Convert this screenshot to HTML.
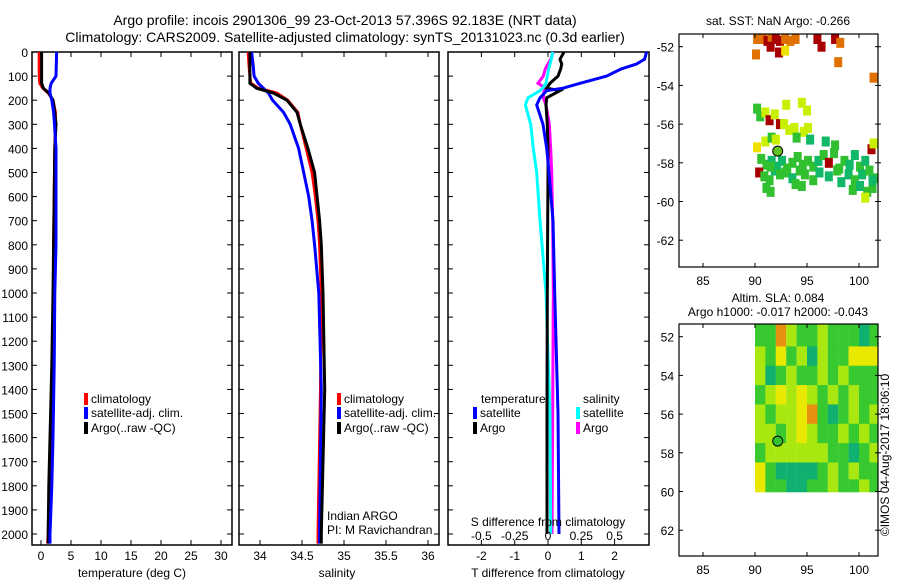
<!DOCTYPE html>
<html><head><meta charset="utf-8">
<style>
html,body{margin:0;padding:0;background:#fff;}
svg{display:block;font-family:"Liberation Sans",sans-serif;}
text{fill:#000;}
</style></head>
<body>
<svg id="c" width="900" height="580" viewBox="0 0 900 580">
<text x="345" y="25" font-size="14" text-anchor="middle">Argo profile: incois 2901306_99 23-Oct-2013 57.396S 92.183E (NRT data)</text>
<text x="345" y="42" font-size="14" text-anchor="middle">Climatology: CARS2009. Satellite-adjusted climatology: synTS_20131023.nc (0.3d earlier)</text>
<text x="778" y="25" font-size="12" text-anchor="middle">sat. SST: NaN Argo: -0.266</text>
<text x="778" y="302" font-size="12" text-anchor="middle">Altim. SLA: 0.084</text>
<text x="778" y="316" font-size="12" text-anchor="middle">Argo h1000: -0.017 h2000: -0.043</text>
<text transform="translate(889,455) rotate(-90)" font-size="12" text-anchor="middle">©IMOS 04-Aug-2017 18:06:10</text>
<g id="plots"></g>
</svg>
<script>
// ---- data ----
const tDepth = [0,100,130,150,170,200,250,300,400,600,800,1000,1300,1600,1800,2000,2040];
const tClim  = [-0.3,-0.3,-0.2,0.3,1.2,2.0,2.4,2.4,2.3,2.2,2.1,2.1,1.9,1.6,1.4,1.2,1.1];
const tArgo  = [0.1,0.1,0.1,0.4,1.3,2.0,2.3,2.5,2.3,2.2,2.1,2.0,1.8,1.5,1.3,1.2,1.2];
const tSat   = [2.6,2.5,1.7,1.5,1.5,1.8,2.1,2.25,2.5,2.5,2.5,2.3,2.2,2.0,1.8,1.5,1.5];
const sDepth = [0,60,100,130,150,170,200,250,300,400,500,600,700,800,1000,1400,2000,2040];
const sClim  = [33.86,33.87,33.88,33.89,33.98,34.2,34.33,34.45,34.48,34.55,34.62,34.66,34.69,34.71,34.73,34.72,34.69,34.69];
const sArgo  = [33.88,33.88,33.88,33.88,33.96,34.16,34.32,34.44,34.48,34.57,34.65,34.68,34.71,34.73,34.75,34.77,34.73,34.73];
const sSat   = [33.90,33.92,33.93,33.98,34.04,34.10,34.15,34.28,34.36,34.46,34.52,34.58,34.62,34.65,34.70,34.73,34.71,34.71];
const dDepth = [0,30,50,70,100,130,150,160,190,220,300,400,500,700,1000,1500,2000];
const dTSat  = [2.96,2.9,2.66,2.2,1.76,0.96,0.45,-0.04,-0.24,-0.34,-0.15,-0.04,0.03,0.15,0.2,0.3,0.33];
const dTArgo = [0.48,0.36,0.41,0.38,0.3,0.06,-0.04,0.36,-0.04,-0.06,-0.02,0,0,-0.01,-0.02,-0.03,-0.03];
const dSSat  = [0.035,0.025,0.015,0.005,-0.005,-0.015,-0.04,-0.06,-0.15,-0.17,-0.13,-0.11,-0.085,-0.06,-0.015,0.015,0.02];
const dSArgo = [0.04,0.02,0,-0.02,-0.035,-0.075,-0.02,-0.03,-0.035,-0.015,0.01,0.02,0.028,0.035,0.04,0.035,0.03];
const depthTicks = [0,100,200,300,400,500,600,700,800,900,1000,1100,1200,1300,1400,1500,1600,1700,1800,1900,2000];
const tTicks = [0,5,10,15,20,25,30];
const sTicks = [34,34.5,35,35.5,36];
const sTickLabels = ["34","34.5","35","35.5","36"];
const dTTicks = [-2,-1,0,1,2];
const dSTicks = [-0.5,-0.25,0,0.25,0.5];
const dSTickLabels = ["-0.5","-0.25","0","0.25","0.5"];
const lonTicks = [85,90,95,100];
const latTicks = [-52,-54,-56,-58,-60,-62];
// SST scatter cells: lon, lat, colour class
const sstLon = [90.2,90.8,91.2,91.6,92.0,92.4,92.9,93.4,93.9,90.1,91.5,92.3,92.9,96.0,96.4,97.7,98.2,98.0,101.4,
 93.0,94.5,95.0,90.2,90.5,91.0,91.4,91.9,92.4,92.8,93.3,93.8,94.7,95.1,90.2,91.0,91.6,92.0,94.0,95.3,96.8,97.7,
 90.6,91.1,91.6,92.1,92.6,93.1,93.6,94.1,94.6,95.1,95.6,96.1,96.6,97.1,97.6,98.1,98.6,99.1,99.6,100.1,100.6,101.2,
 90.4,90.9,91.4,91.9,92.4,92.9,93.6,94.3,94.8,95.6,96.2,97.1,97.9,99.0,99.6,100.3,101.0,101.4,
 91.1,91.5,93.9,94.5,98.3,99.4,100.1,100.8,101.3,101.4,91.5,100.6,101.3];
const sstLat = [-51.6,-51.6,-51.7,-51.6,-51.6,-51.7,-51.6,-51.7,-51.6,-52.4,-52.0,-52.3,-52.2,-51.6,-52.0,-51.6,-51.8,-52.8,-53.6,
 -55.0,-54.9,-55.3,-55.2,-55.6,-55.4,-55.8,-55.5,-56.0,-56.0,-56.3,-56.2,-56.4,-56.2,-57.2,-56.9,-56.7,-56.8,-56.7,-56.8,-56.9,-57.1,
 -57.8,-58.1,-57.9,-58.2,-57.9,-58.3,-58.0,-57.7,-58.1,-57.9,-58.2,-57.9,-57.6,-58.0,-57.5,-58.3,-57.9,-58.1,-57.6,-58.2,-57.9,-57.3,
 -58.5,-58.7,-58.9,-58.4,-58.6,-58.5,-58.8,-58.4,-58.6,-58.9,-58.5,-58.7,-58.4,-58.6,-58.9,-58.6,-58.4,-58.8,
 -59.3,-59.5,-59.1,-59.2,-59.0,-59.4,-59.2,-59.5,-59.3,-57.0,-58.2,-59.8,-58.9];
const sstCol = ["o","o","r","o","r","r","o","o","o","o","r","r","y","r","r","r","o","o","o",
 "l","l","l","g","g","l","r","l","r","l","l","l","l","l","y","l","g","l","g","m","m","g",
 "g","g","m","m","m","g","g","g","g","g","g","m","g","r","g","g","g","m","m","g","m","r",
 "r","g","g","m","g","g","m","g","g","g","m","m","g","m","g","m","g","g",
 "g","g","g","g","m","g","m","g","g","l","g","l","m"];
const sstPalette = {r:"#a80000",o:"#e07000",l:"#c8f000",g:"#30c030",m:"#10b868",y:"#f0e000"};
// SLA grid rows lat -52..-60, cols lon 90..101
const slaLats = [-52,-53,-54,-55,-56,-57,-58,-59,-59.75];
const slaLons = [90,91,92,93,94,95,96,97,98,99,100,101];
const slaGrid = [
 [1,1,4,2,1,1,2,1,1,1,0,1],
 [2,1,3,1,2,0,2,1,1,3,3,3],
 [2,0,1,2,1,1,2,1,2,1,1,1],
 [1,2,3,2,3,2,1,2,1,2,1,1],
 [2,1,2,2,3,4,1,0,1,2,1,2],
 [2,2,1,2,3,2,1,1,2,1,2,1],
 [1,2,2,2,2,2,2,1,1,0,1,2],
 [3,1,0,0,0,0,1,2,1,2,1,1],
 [3,1,1,0,0,1,1,2,1,1,2,1]];
const slaPalette = ["#10b070","#38c830","#a8e810","#e8e800","#e89010"];
const argoLon = 92.183, argoLat = -57.396;

// ---- drawing ----
const NS="http://www.w3.org/2000/svg";
const root=document.getElementById('plots');
function el(tag,attrs,parent){const e=document.createElementNS(NS,tag);for(const k in attrs)e.setAttribute(k,attrs[k]);(parent||root).appendChild(e);return e;}
function txt(x,y,s,size,anchor,name){const t=el('text',{x:x,y:y,'font-size':size,'text-anchor':anchor||'start'});t.textContent=s;


return t;}
const Y0=52, YPX=0.241;
const yD = d => Y0 + d*YPX;
function panel(x0,x1,name){
 const g=el('g',{});
 
 
 el('rect',{x:x0,y:52,width:x1-x0,height:493,fill:'none',stroke:'#000','stroke-width':1.5},g);
 depthTicks.forEach(d=>{el('line',{x1:x0,x2:x0+5,y1:yD(d),y2:yD(d),stroke:'#000'},g);el('line',{x1:x1-5,x2:x1,y1:yD(d),y2:yD(d),stroke:'#000'},g);});
 return g;
}
function line(xs,ds,fx,color,name,g){
 const pts=xs.map((v,i)=>fx(v).toFixed(1)+','+yD(ds[i]).toFixed(1)).join(' ');
 const p=el('polyline',{points:pts,fill:'none',stroke:color,'stroke-width':3,'stroke-linejoin':'miter'},g);
 
 
}
function xticks(ticks,labels,fx,y,g,name){
 ticks.forEach((t,i)=>{const x=fx(t);el('line',{x1:x,x2:x,y1:52,y2:57,stroke:'#000'},g);el('line',{x1:x,x2:x,y1:540,y2:545,stroke:'#000'},g);
 txt(x,y,labels[i],12,'middle',name);});
}
function legendItem(x,y,color,label,g){
 el('rect',{x:x,y:y-10,width:4,height:12,fill:color},g);
 txt(x+7,y,label,12,'start','legend-entry');
}
// panel 1 temperature
const fT=v=>41+v*6;
let g1=panel(32,232,'temperature-panel');
depthTicks.forEach(d=>txt(28,yD(d)+5,String(d),12,'end','depth-tick-label'));
line(tClim,tDepth,fT,'#ff0000','temp-climatology-line',g1);
line(tArgo,tDepth,fT,'#000','temp-argo-line',g1);
line(tSat,tDepth,fT,'#0000ff','temp-satellite-line',g1);
xticks(tTicks,tTicks.map(String),fT,560,g1,'temp-tick-label');
txt(132,577,'temperature (deg C)',12,'middle','temp-axis-title');
legendItem(84,403,'#ff0000','climatology',g1);legendItem(84,417,'#0000ff','satellite-adj. clim.',g1);legendItem(84,432,'#000','Argo(..raw -QC)',g1);
// panel 2 salinity
const fS=v=>260+(v-34)*84;
let g2=panel(239,439,'salinity-panel');
line(sClim,sDepth,fS,'#ff0000','sal-climatology-line',g2);
line(sSat,sDepth,fS,'#0000ff','sal-satellite-line',g2);
line(sArgo,sDepth,fS,'#000','sal-argo-line',g2);
xticks(sTicks,sTickLabels,fS,560,g2,'sal-tick-label');
txt(337,577,'salinity',12,'middle','sal-axis-title');
legendItem(337,403,'#ff0000','climatology',g2);legendItem(337,417,'#0000ff','satellite-adj. clim.',g2);legendItem(337,432,'#000','Argo(..raw -QC)',g2);
txt(327,520,'Indian ARGO',12,'start','institution-label');
txt(327,534,'PI: M Ravichandran',12,'start','pi-label');
// panel 3 differences
const fDT=v=>548+v*33.3, fDS=v=>548+v*133.2;
let g3=panel(448,649,'difference-panel');
line(dSArgo,dDepth,fDS,'#ff00ff','sal-argo-diff-line',g3);
line(dSSat,dDepth,fDS,'#00ffff','sal-satellite-diff-line',g3);
line(dTArgo,dDepth,fDT,'#000','temp-argo-diff-line',g3);
line(dTSat,dDepth,fDT,'#0000ff','temp-satellite-diff-line',g3);
xticks(dTTicks,dTTicks.map(String),fDT,560,g3,'tdiff-tick-label');
dSTicks.forEach((t,i)=>txt(fDS(t),540,dSTickLabels[i],12,'middle','sdiff-tick-label'));
txt(548,526,'S difference from climatology',12,'middle','sdiff-axis-title');
txt(548,577,'T difference from climatology',12,'middle','tdiff-axis-title');
txt(481,403,'temperature',12,'start','legend-temperature-heading');
txt(583,403,'salinity',12,'start','legend-salinity-heading');
legendItem(473,417,'#0000ff','satellite',g3);legendItem(473,432,'#000','Argo',g3);
legendItem(576,417,'#00ffff','satellite',g3);legendItem(576,432,'#ff00ff','Argo',g3);
// maps
const fLon=v=>755+(v-90)*10.4;
function mapFrame(name){
 const g=el('g',{});
 
 
 return g;
}
function mapAxes(g,y0,y1,latToY,neg){
 el('rect',{x:679,y:y0,width:199,height:y1-y0,fill:'none',stroke:'#000','stroke-width':1.2},g);
 lonTicks.forEach(l=>{const x=fLon(l);el('line',{x1:x,x2:x,y1:y1,y2:y1-4,stroke:'#000'},g);el('line',{x1:x,x2:x,y1:y0,y2:y0+4,stroke:'#000'},g);
  txt(x,y1+18,String(l),12,'middle','lon-tick-label');});
 latTicks.forEach(l=>{const y=latToY(l);el('line',{x1:875,x2:881,y1:y,y2:y,stroke:'#000'},g);el('line',{x1:679,x2:683,y1:y,y2:y,stroke:'#000'},g);
  txt(674,y+5,neg?String(l):String(-l),12,'end','lat-tick-label');});
}
// SST map
const fLat1=v=>46.7+(-52-v)*19.35;
let gm1=mapFrame('sst-map');
sstLon.forEach((lo,i)=>{const r=el('rect',{x:fLon(lo)-4,y:fLat1(sstLat[i])-5,width:8,height:10,fill:sstPalette[sstCol[i]]},gm1);
 
 });
el('circle',{cx:fLon(argoLon),cy:fLat1(argoLat),r:5,fill:'#60c020',stroke:'#000'},gm1);
mapAxes(gm1,34,267,fLat1,true);
// SLA map
const fLat2=v=>336.7+(-52-v)*19.35;
let gm2=mapFrame('sla-map');
slaGrid.forEach((row,ri)=>row.forEach((v,ci)=>{
 const la=slaLats[ri];
 const top=ri===0?324:(fLat2(slaLats[ri-1])+fLat2(la))/2;
 const bot=ri===slaLats.length-1?492:(fLat2(la)+fLat2(slaLats[ri+1]))/2;
 const x=fLon(slaLons[ci]); const w=ci===slaLons.length-1?878-x:10.5;
 const r=el('rect',{x:x,y:top,width:w,height:bot-top+0.3,fill:slaPalette[v]},gm2);
 
 
}));
el('circle',{cx:fLon(argoLon),cy:fLat2(argoLat),r:5,fill:'#30c030',stroke:'#000'},gm2);
mapAxes(gm2,324,556,fLat2,false);
</script>
</body></html>
